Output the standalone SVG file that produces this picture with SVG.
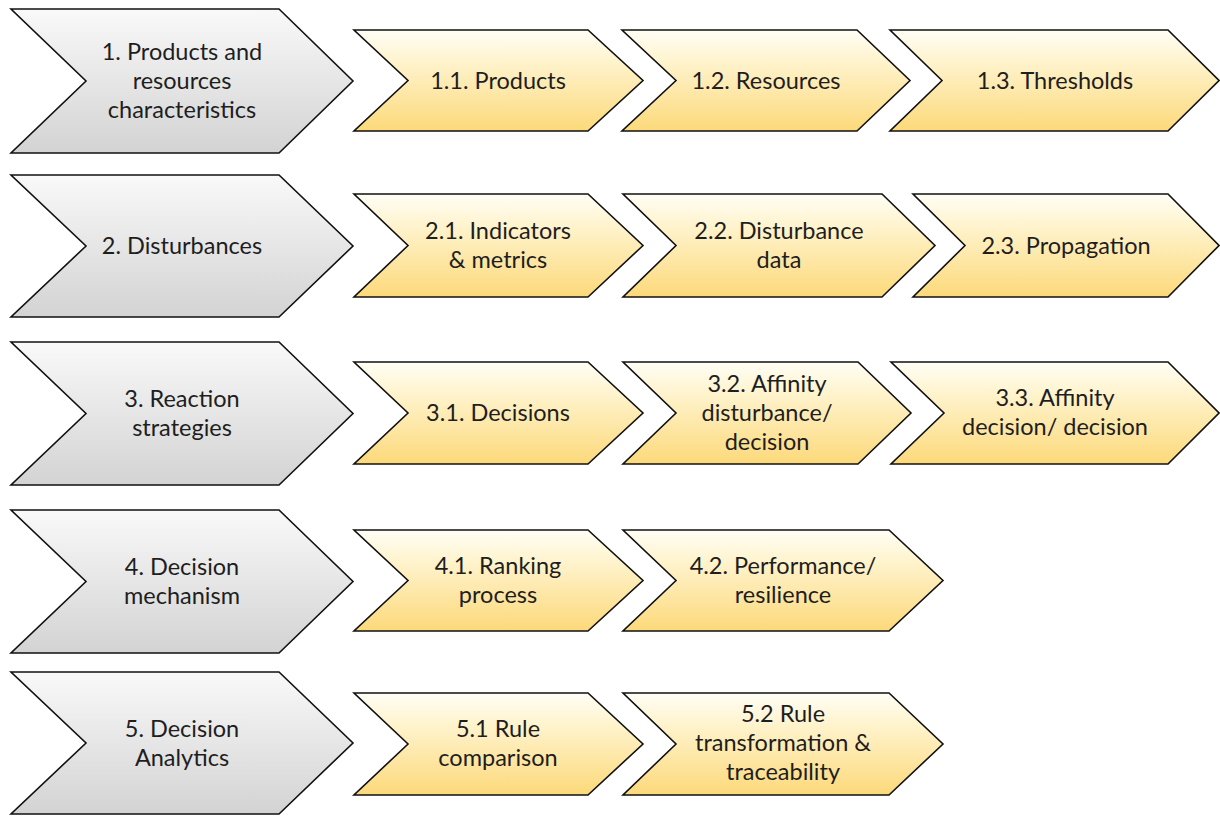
<svg xmlns="http://www.w3.org/2000/svg" width="1220" height="817" viewBox="0 0 1220 817">
<defs>
<linearGradient id="gGray" x1="0" y1="0" x2="0" y2="1">
<stop offset="0" stop-color="#f9f9f9"/>
<stop offset="1" stop-color="#d3d3d3"/>
</linearGradient>
<linearGradient id="gYel" x1="0" y1="0" x2="0" y2="1">
<stop offset="0" stop-color="#fffef6"/>
<stop offset="0.3" stop-color="#fff4cf"/>
<stop offset="1" stop-color="#fcd97a"/>
</linearGradient>
</defs>
<style>
.g{fill:url(#gGray);stroke:#111;stroke-width:1.6;stroke-linejoin:miter}
.y{fill:url(#gYel);stroke:#111;stroke-width:1.6;stroke-linejoin:miter}
text{font-family:Lato,"Open Sans","Liberation Sans",sans-serif;font-size:23.5px;fill:#1e1e1e;text-anchor:middle}
</style>
<rect width="1220" height="817" fill="#ffffff"/>
<g id="connectors"/>

<g id="n1">
<polygon class="g" points="11,9 279,9 353,81 279,153 11,153 86,81"/>
<text x="182" y="60">1. Products and</text>
<text x="182" y="89">resources</text>
<text x="182" y="118">characteristics</text>
</g>
<g id="n1_1">
<polygon class="y" points="354,30 588,30 643,80.5 588,131 354,131 408,80.5"/>
<text x="498" y="89">1.1. Products</text>
</g>
<g id="n1_2">
<polygon class="y" points="622,30 857,30 910,80.5 857,131 622,131 676,80.5"/>
<text x="766" y="89">1.2. Resources</text>
</g>
<g id="n1_3">
<polygon class="y" points="890,30 1168,30 1219,80.5 1168,131 890,131 942,80.5"/>
<text x="1055" y="89">1.3. Thresholds</text>
</g>

<g id="n2">
<polygon class="g" points="11,175 279,175 353,246 279,317 11,317 86,246"/>
<text x="182" y="254">2. Disturbances</text>
</g>
<g id="n2_1">
<polygon class="y" points="354,194 588,194 643,245.5 588,297 354,297 408,245.5"/>
<text x="498" y="239">2.1. Indicators</text>
<text x="498" y="268">&amp; metrics</text>
</g>
<g id="n2_2">
<polygon class="y" points="623,194 882,194 935,245.5 882,297 623,297 676,245.5"/>
<text x="779" y="239">2.2. Disturbance</text>
<text x="779" y="268">data</text>
</g>
<g id="n2_3">
<polygon class="y" points="913,194 1168,194 1219,245.5 1168,297 913,297 965,245.5"/>
<text x="1066" y="254">2.3. Propagation</text>
</g>

<g id="n3">
<polygon class="g" points="11,342 279,342 353,413.5 279,485 11,485 86,413.5"/>
<text x="182" y="407">3. Reaction</text>
<text x="182" y="436">strategies</text>
</g>
<g id="n3_1">
<polygon class="y" points="354,362 588,362 643,413 588,464 354,464 408,413"/>
<text x="498" y="421">3.1. Decisions</text>
</g>
<g id="n3_2">
<polygon class="y" points="623,362 858,362 911,413 858,464 623,464 676,413"/>
<text x="767" y="392">3.2. Affinity</text>
<text x="767" y="421">disturbance/</text>
<text x="767" y="450">decision</text>
</g>
<g id="n3_3">
<polygon class="y" points="891,362 1168,362 1219,413 1168,464 891,464 944,413"/>
<text x="1055" y="406">3.3. Affinity</text>
<text x="1055" y="435">decision/ decision</text>
</g>

<g id="n4">
<polygon class="g" points="11,510 279,510 353,581.5 279,653 11,653 86,581.5"/>
<text x="182" y="575">4. Decision</text>
<text x="182" y="604">mechanism</text>
</g>
<g id="n4_1">
<polygon class="y" points="354,530 588,530 643,580.5 588,631 354,631 408,580.5"/>
<text x="498" y="574">4.1. Ranking</text>
<text x="498" y="603">process</text>
</g>
<g id="n4_2">
<polygon class="y" points="623,530 889,530 943,580.5 889,631 623,631 676,580.5"/>
<text x="783" y="574">4.2. Performance/</text>
<text x="783" y="603">resilience</text>
</g>

<g id="n5">
<polygon class="g" points="11,672 279,672 353,743 279,814 11,814 86,743"/>
<text x="182" y="737">5. Decision</text>
<text x="182" y="766">Analytics</text>
</g>
<g id="n5_1">
<polygon class="y" points="354,693 588,693 643,744 588,795 354,795 408,744"/>
<text x="498" y="737">5.1 Rule</text>
<text x="498" y="766">comparison</text>
</g>
<g id="n5_2">
<polygon class="y" points="623,693 889,693 943,744 889,795 623,795 676,744"/>
<text x="783" y="722">5.2 Rule</text>
<text x="783" y="751">transformation &amp;</text>
<text x="783" y="780">traceability</text>
</g>
</svg>
